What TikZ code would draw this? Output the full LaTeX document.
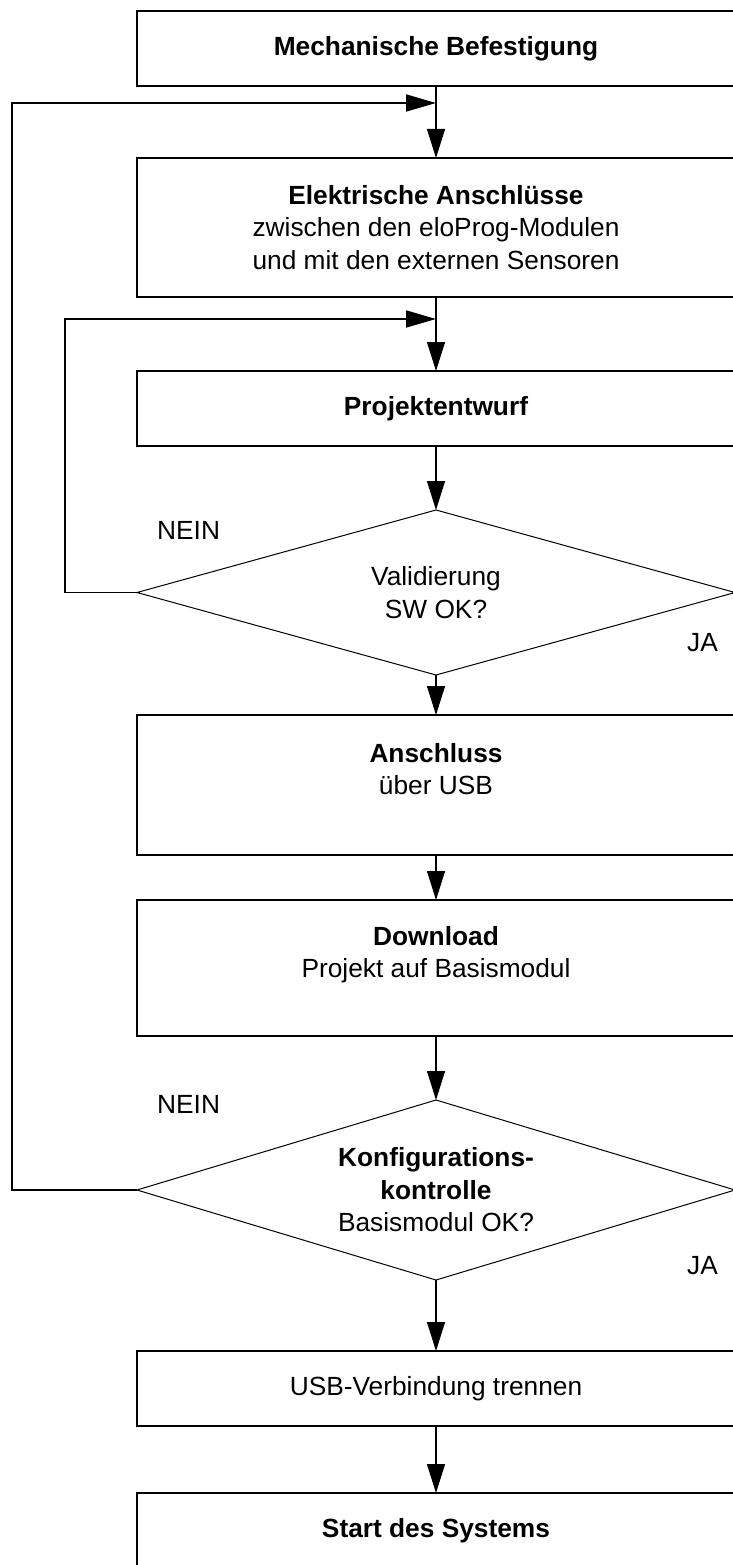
\documentclass[tikz,border=0pt]{standalone}
\usepackage{fontspec}
\setmainfont{Liberation Sans}
\usetikzlibrary{arrows.meta,shapes.geometric,positioning}
\tikzstyle{tikzbox} = [rectangle, minimum width=598pt, minimum height=75pt, align=center, text centered, draw=black, line width=1.7pt, inner sep=0pt, outer sep=0pt]
\tikzstyle{tikzdia} = [diamond, aspect=3.3, minimum width=598pt, minimum height=165pt, align=center, text centered, draw=black, line width=1pt, inner sep=0pt, outer sep=0pt]
\tikzstyle{tikzlabel} = [rectangle, inner sep=0pt]
\tikzstyle{tikzarrow} = [-{Triangle[length=29pt,width=18pt]}, line width=1.1pt]
\tikzstyle{tikzback} = [-{Triangle[length=30pt,width=17pt]}, line width=1.8pt]

\begin{document}
\begin{tikzpicture}[x=1pt, y=1pt, font=\fontsize{26.3pt}{32.5pt}\selectfont]
    \useasboundingbox (0,0) rectangle (733,-1565);
    \clip (0,0) rectangle (733,-1565);

    \node (mech)  [tikzbox] at (436,-48.5) {\textbf{Mechanische Befestigung}};
    \node (elek)  [tikzbox, minimum height=139pt, below=72pt of mech] {\textbf{Elektrische Anschlüsse}\\zwischen den eloProg-Modulen\\und mit den externen Sensoren};
    \node (proj)  [tikzbox, below=74pt of elek] {\textbf{Projektentwurf}};
    \node (valid) [tikzdia, below=64pt of proj] {Validierung\\SW OK?};
    \node (usb)   [tikzbox, minimum height=140pt, below=40pt of valid] {\textbf{Anschluss}\\über USB\\\mbox{}};
    \node (down)  [tikzbox, minimum height=136pt, below=45pt of usb] {\textbf{Download}\\Projekt auf Basismodul\\\mbox{}};
    \node (konf)  [tikzdia, minimum height=180pt, below=64pt of down] {\textbf{Konfigurations-}\\\textbf{kontrolle}\\Basismodul OK?};
    \node (trenn) [tikzbox, below=71pt of konf] {USB-Verbindung trennen};
    \node (start) [tikzbox, below=67pt of trenn] {\textbf{Start des Systems}};

    \node (nein1) [tikzlabel, above right=53pt and 20pt of valid.west] {NEIN};
    \node (ja1)   [tikzlabel, below left=41pt and 17pt of valid.east] {JA};
    \node (nein2) [tikzlabel, above right=76pt and 20pt of konf.west] {NEIN};
    \node (ja2)   [tikzlabel, below left=66pt and 17pt of konf.east] {JA};

    \coordinate [below=17pt of mech] (j1);
    \coordinate [below=22pt of elek] (j2);

    \draw [tikzarrow] (mech) -- (elek);
    \draw [tikzarrow] (elek) -- (proj);
    \draw [tikzarrow] (proj) -- (valid);
    \draw [tikzarrow] (valid) -- (usb);
    \draw [tikzarrow] (usb) -- (down);
    \draw [tikzarrow] (down) -- (konf);
    \draw [tikzarrow] (konf) -- (trenn);
    \draw [tikzarrow] (trenn) -- (start);
    \draw [tikzback] (valid.west) -- ++(-72,0) |- (j2);
    \draw [tikzback] (konf.west) -- ++(-125,0) |- (j1);
\end{tikzpicture}
\end{document}
